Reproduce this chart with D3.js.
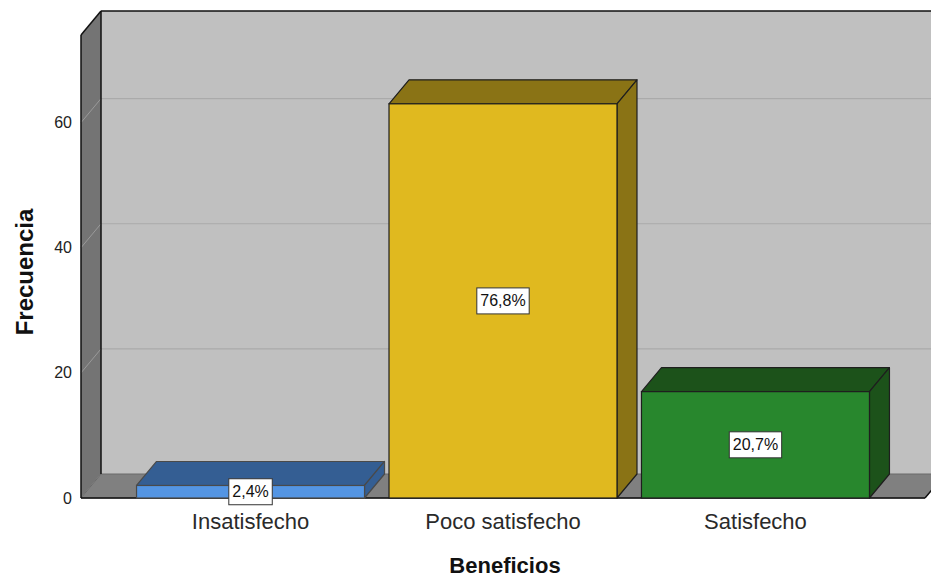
<!DOCTYPE html>
<html>
<head>
<meta charset="utf-8">
<script src="https://cdn.jsdelivr.net/npm/d3@7"></script>
<style>
  html, body { margin: 0; padding: 0; background: #ffffff; }
  svg { display: block; font-family: Arial, "Liberation Sans", sans-serif; }
</style>
</head>
<body>
<svg id="chart" width="931" height="577"></svg>
<script>
// Frequency of answers per category (n = 82)
const categories = ["Insatisfecho", "Poco satisfecho", "Satisfecho"];
const counts = [2, 63, 17];
const yTicks = [0, 20, 40, 60];
const frontColors = ["#5495e3", "#e0b91f", "#28872d"];
const shadeColors = ["#345e93", "#8a7315", "#1c521a"];
const edgeColors = ["#4a4a4a", "#1e1e1e", "#1e1e1e"];

const total = d3.sum(counts);
const pctFormat = v => d3.format(".1f")(v).replace(".", ",") + "%";

const svg = d3.select("#chart");
const W = 931;

// Front plane of the 3D box and the depth offset of the back plane
const plotLeft = 81, plotRight = 925, plotBottom = 498, plotTop = 35;
const DX = 20, DY = -24;

const x = d3.scaleBand()
  .domain(categories)
  .range([plotLeft, plotRight])
  .paddingInner(0.097)
  .paddingOuter(0.22);

const y = d3.scaleLinear()
  .domain([0, 74])
  .range([plotBottom, plotTop]);

const pts = arr => arr.map(p => p.join(",")).join(" ");

// Back wall
svg.append("rect")
  .attr("x", plotLeft + DX).attr("y", plotTop + DY)
  .attr("width", W - plotLeft - DX + 40).attr("height", plotBottom - plotTop)
  .attr("fill", "#c0c0c0");

// Grid lines on the back wall
svg.append("g").selectAll("line")
  .data(yTicks.filter(t => t > 0))
  .join("line")
  .attr("x1", plotLeft + DX).attr("x2", W + 40)
  .attr("y1", d => y(d) + DY).attr("y2", d => y(d) + DY)
  .attr("stroke", "#aaaaaa").attr("stroke-width", 1.2);

// Left wall
svg.append("polygon")
  .attr("points", pts([[plotLeft, plotTop], [plotLeft + DX, plotTop + DY], [plotLeft + DX, plotBottom + DY], [plotLeft, plotBottom]]))
  .attr("fill", "#747474");

// Grid lines across the left wall
svg.append("g").selectAll("line")
  .data(yTicks)
  .join("line")
  .attr("x1", plotLeft).attr("x2", plotLeft + DX)
  .attr("y1", d => y(d)).attr("y2", d => y(d) + DY)
  .attr("stroke", "#9a9a9a").attr("stroke-width", 1);

// Floor
svg.append("polygon")
  .attr("points", pts([[plotLeft, plotBottom], [plotLeft + DX, plotBottom + DY], [plotRight + DX, plotBottom + DY], [plotRight, plotBottom]]))
  .attr("fill", "#808080")
  .attr("stroke", "#6a6a6a").attr("stroke-width", 1);

// Frame edges
const frame = svg.append("g").attr("stroke", "#111").attr("stroke-width", 1.5).attr("fill", "none");
frame.append("line").attr("x1", plotLeft).attr("y1", plotTop).attr("x2", plotLeft).attr("y2", plotBottom);
frame.append("line").attr("x1", plotLeft).attr("y1", plotTop).attr("x2", plotLeft + DX).attr("y2", plotTop + DY);
frame.append("line").attr("x1", plotLeft + DX).attr("y1", plotTop + DY).attr("x2", W + 40).attr("y2", plotTop + DY);
frame.append("line").attr("x1", plotLeft + DX).attr("y1", plotTop + DY).attr("x2", plotLeft + DX).attr("y2", plotBottom + DY);
frame.append("line").attr("x1", plotLeft).attr("y1", plotBottom).attr("x2", plotRight).attr("y2", plotBottom);
frame.append("line").attr("x1", plotRight).attr("y1", plotBottom).attr("x2", plotRight + DX).attr("y2", plotBottom + DY);

// 3D bars
const bars = svg.append("g").selectAll("g")
  .data(categories.map((c, i) => ({ c, v: counts[i], i })))
  .join("g");

bars.each(function(d) {
  const g = d3.select(this);
  const x0 = x(d.c), x1 = x(d.c) + x.bandwidth();
  const yt = y(d.v), yb = y(0);
  const stroke = edgeColors[d.i];
  // top face
  g.append("polygon")
    .attr("points", pts([[x0, yt], [x0 + DX, yt + DY], [x1 + DX, yt + DY], [x1, yt]]))
    .attr("fill", shadeColors[d.i]).attr("stroke", stroke).attr("stroke-width", 1.2)
    .attr("stroke-linejoin", "round");
  // side face
  g.append("polygon")
    .attr("points", pts([[x1, yt], [x1 + DX, yt + DY], [x1 + DX, yb + DY], [x1, yb]]))
    .attr("fill", shadeColors[d.i]).attr("stroke", stroke).attr("stroke-width", 1.2)
    .attr("stroke-linejoin", "round");
  // front face
  g.append("rect")
    .attr("x", x0).attr("y", yt)
    .attr("width", x1 - x0).attr("height", yb - yt)
    .attr("fill", frontColors[d.i]).attr("stroke", stroke).attr("stroke-width", 1.2);
});

// Percentage labels in white boxes, centred on each front face
bars.each(function(d) {
  const g = d3.select(this);
  const cx = x(d.c) + x.bandwidth() / 2;
  const cy = (y(d.v) + y(0)) / 2;
  const box = g.append("rect").attr("fill", "#fff").attr("stroke", "#333").attr("stroke-width", 1);
  const t = g.append("text")
    .attr("x", cx).attr("y", cy)
    .attr("text-anchor", "middle").attr("dominant-baseline", "central")
    .attr("font-size", 16).attr("fill", "#111")
    .text(pctFormat(d.v / total * 100));
  const bb = t.node().getBBox();
  const bw = bb.width + 7, bh = 26;
  box.attr("x", cx - bw / 2).attr("y", cy - bh / 2).attr("width", bw).attr("height", bh);
});

// Y axis labels
const yAxis = svg.append("g")
  .attr("transform", `translate(${plotLeft},0)`)
  .call(d3.axisLeft(y).tickValues(yTicks).tickSize(0).tickPadding(9).tickFormat(d3.format("d")));
yAxis.select(".domain").remove();
yAxis.selectAll("text").attr("font-size", 16).attr("font-family", "Arial, 'Liberation Sans', sans-serif").attr("fill", "#222");

// X axis labels
const xAxis = svg.append("g")
  .attr("transform", `translate(0,${plotBottom})`)
  .call(d3.axisBottom(x).tickSize(0).tickPadding(15));
xAxis.select(".domain").remove();
xAxis.selectAll("text").attr("font-size", 22).attr("font-family", "Arial, 'Liberation Sans', sans-serif").attr("fill", "#2a2a2a");

// Axis titles
svg.append("text")
  .attr("x", (plotLeft + plotRight) / 2 + 2).attr("y", 573)
  .attr("text-anchor", "middle")
  .attr("font-size", 22).attr("font-weight", "bold").attr("fill", "#111")
  .text("Beneficios");

svg.append("text")
  .attr("transform", `translate(33,${272}) rotate(-90)`)
  .attr("text-anchor", "middle")
  .attr("font-size", 24).attr("font-weight", "bold").attr("fill", "#111")
  .text("Frecuencia");
</script>
</body>
</html>
